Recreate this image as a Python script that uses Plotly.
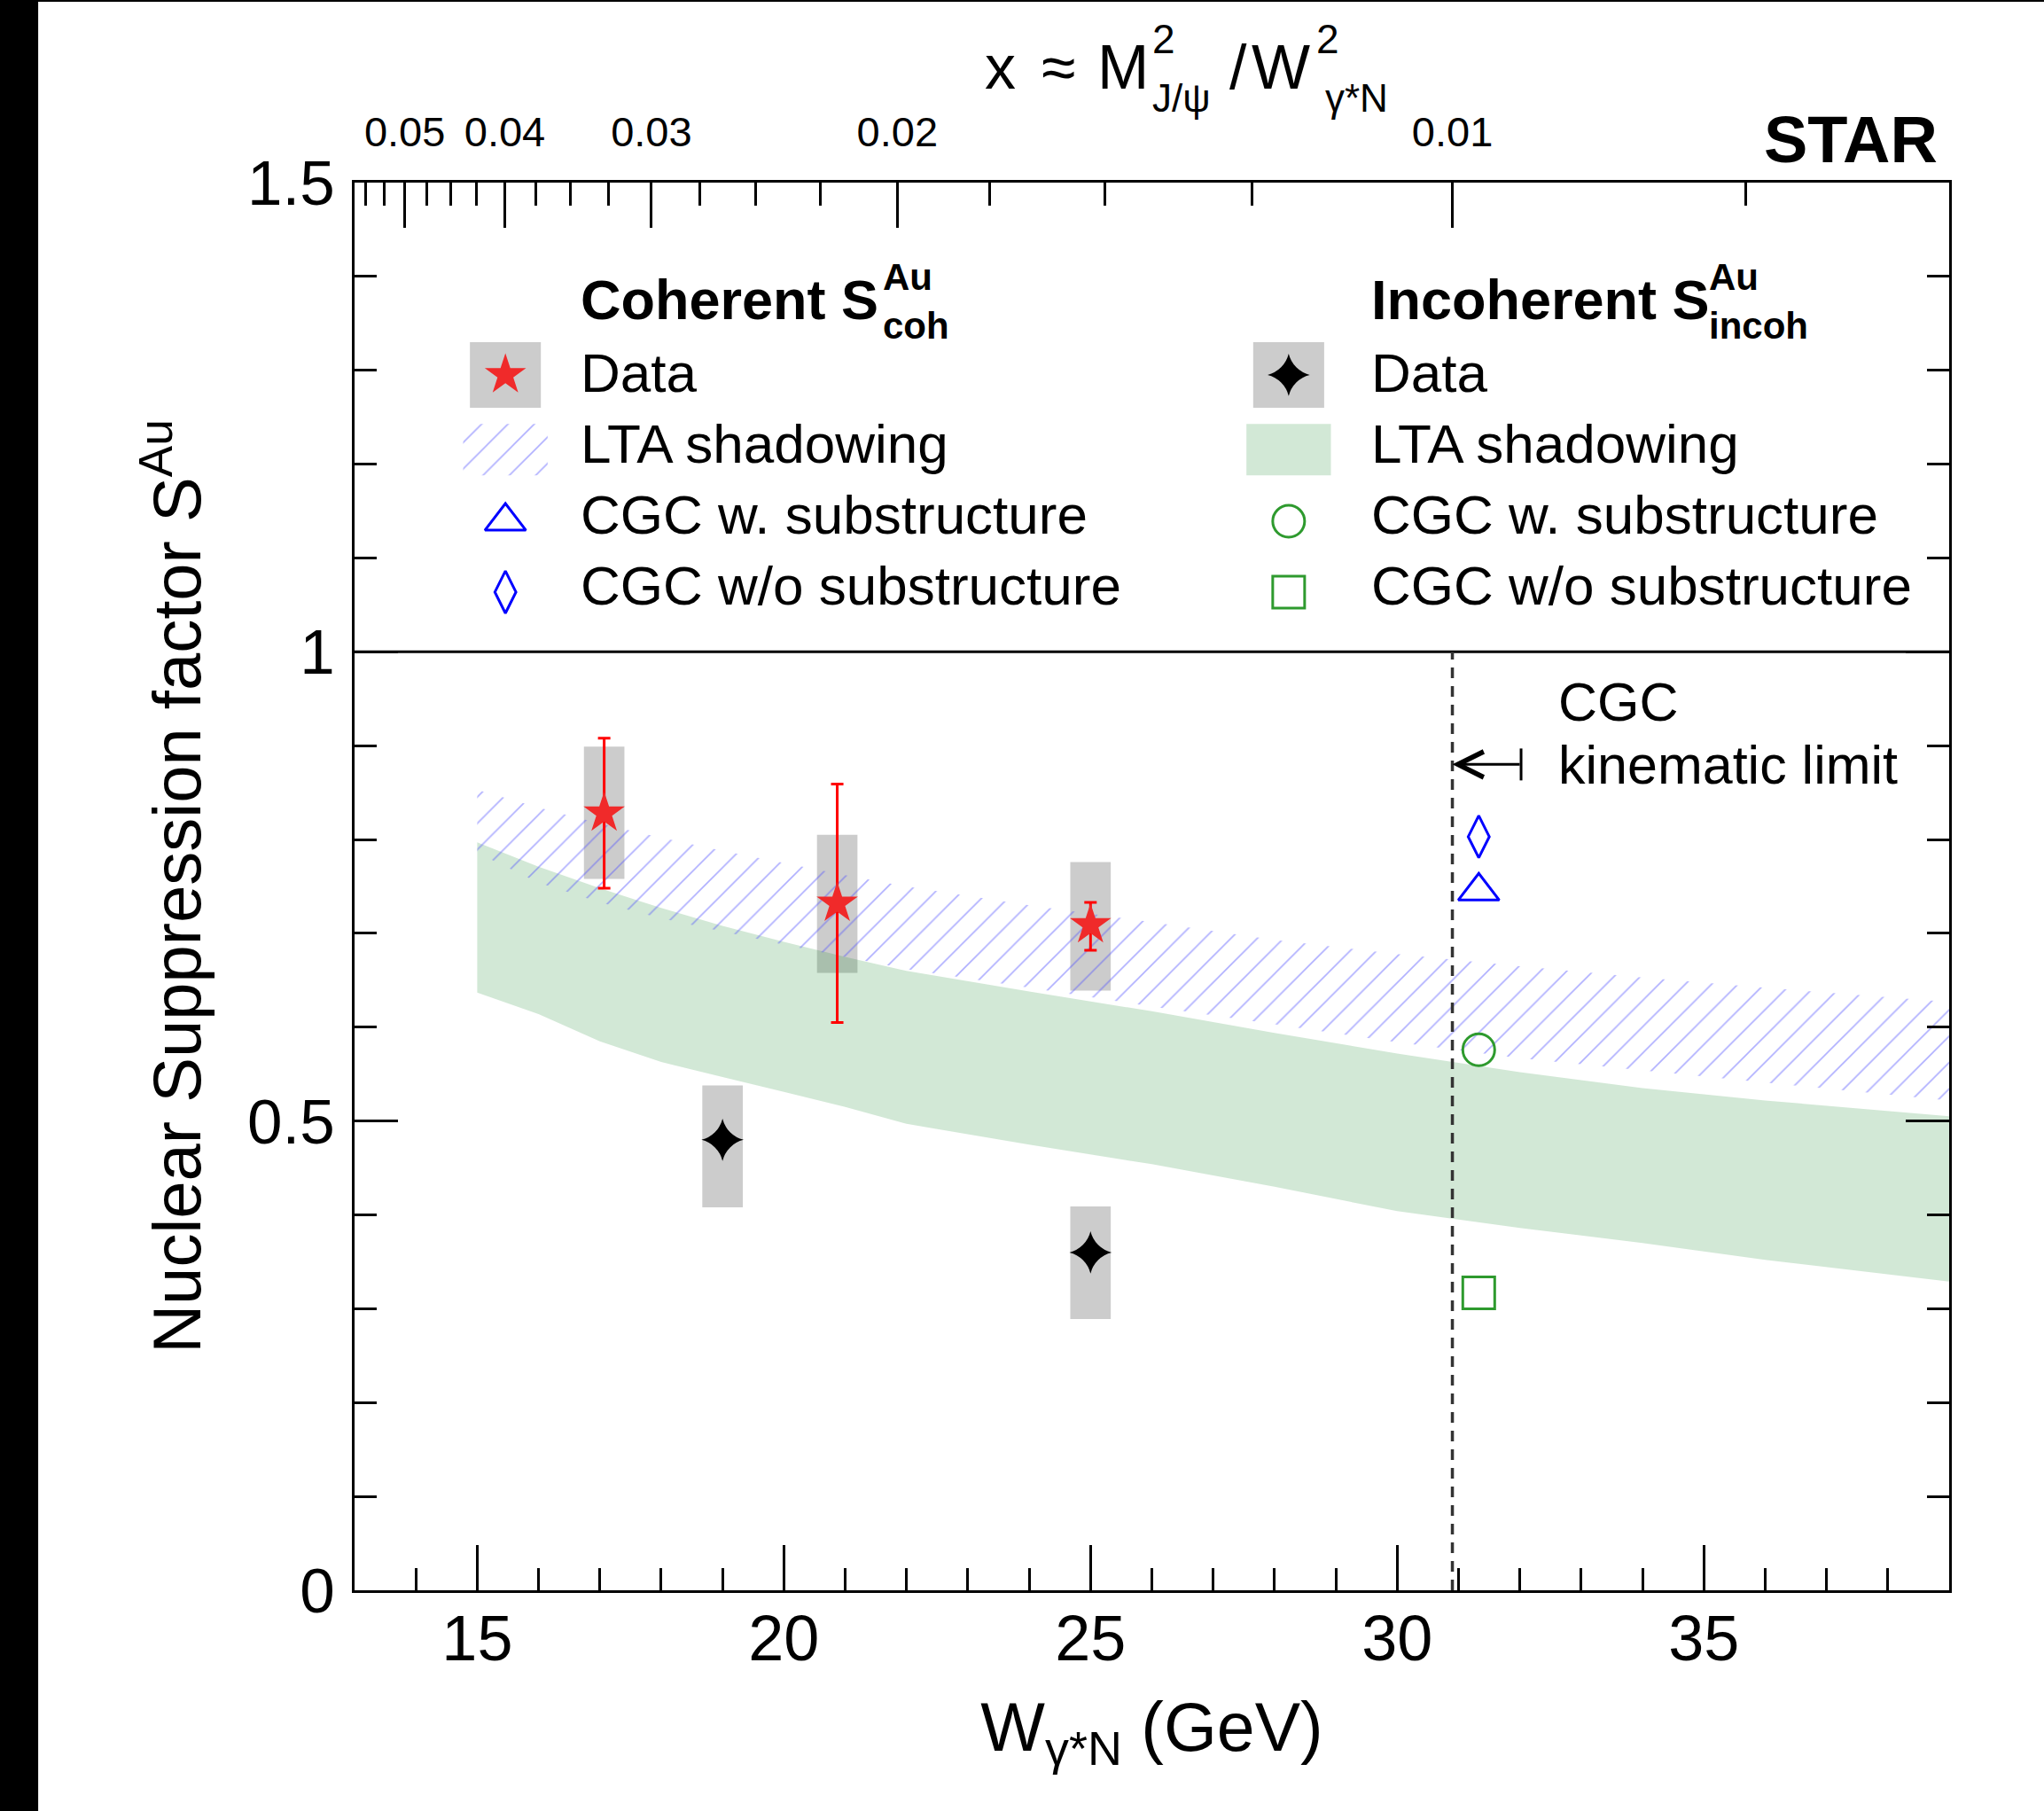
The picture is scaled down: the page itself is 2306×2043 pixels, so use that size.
import math
import plotly.graph_objects as go

# ---------------- data ----------------
M_JPSI = 3.09  # GeV, effective J/psi mass used for the top axis: x = M^2 / W^2

# Coherent J/psi: nuclear suppression factor S_coh^Au
COH_W = [17.07, 20.87, 25.00]
COH_S = [0.828, 0.732, 0.709]
COH_STAT_HI = [0.908, 0.859, 0.733]
COH_STAT_LO = [0.748, 0.605, 0.682]
COH_SYS_HI = [0.899, 0.805, 0.776]
COH_SYS_LO = [0.758, 0.658, 0.639]

# Incoherent J/psi: S_incoh^Au
INC_W = [19.00, 25.00]
INC_S = [0.480, 0.360]
INC_SYS_HI = [0.538, 0.409]
INC_SYS_LO = [0.408, 0.289]

# LTA shadowing bands
LTA_W = [15, 16, 17, 18, 19, 20, 21, 22, 24, 26, 28, 30, 32, 34, 36, 39]
COH_LTA_HI = [0.853, 0.834, 0.817, 0.802, 0.788, 0.775, 0.762, 0.750, 0.730, 0.712, 0.693, 0.678, 0.665, 0.653, 0.642, 0.627]
COH_LTA_LO = [0.786, 0.754, 0.733, 0.716, 0.702, 0.688, 0.675, 0.662, 0.642, 0.622, 0.603, 0.584, 0.567, 0.554, 0.541, 0.522]
INC_LTA_HI = [0.797, 0.771, 0.748, 0.727, 0.708, 0.691, 0.675, 0.660, 0.638, 0.617, 0.594, 0.572, 0.552, 0.535, 0.522, 0.505]
INC_LTA_LO = [0.637, 0.614, 0.585, 0.563, 0.547, 0.531, 0.515, 0.497, 0.475, 0.454, 0.430, 0.404, 0.386, 0.370, 0.352, 0.329]

# CGC predictions
CGC_W = [31.33]
CGC_COH_SUB = [0.745]     # CGC w. substructure (coherent)
CGC_COH_NOSUB = [0.803]   # CGC w/o substructure (coherent)
CGC_INC_SUB = [0.576]     # CGC w. substructure (incoherent)
CGC_INC_NOSUB = [0.317]   # CGC w/o substructure (incoherent)
CGC_LIMIT_X = 0.01        # CGC kinematic limit in Bjorken x

# Top axis (Bjorken x) ticks
X_MAJOR = [0.05, 0.04, 0.03, 0.02, 0.01]
X_MAJOR_LABELS = ["0.05", "0.04", "0.03", "0.02", "0.01"]
X_MINOR = [0.055, 0.0525, 0.0475, 0.045, 0.0425, 0.0375, 0.035, 0.0325,
           0.0275, 0.025, 0.0225, 0.0175, 0.015, 0.0125, 0.0075]

LEGEND_LABELS = ["Data", "LTA shadowing", "CGC w. substructure", "CGC w/o substructure"]

# ---------------- styling / layout constants ----------------
W_RANGE = [13, 39]
S_RANGE = [0, 1.5]
FONT = "Liberation Sans, Arial, Helvetica, sans-serif"
GREY = "#cccccc"
RED_STAR = "#f02a2a"
RED_BAR = "#ff0000"
BLUE = "#0000ff"
GREEN_MK = "#2e9a2e"
GREEN_FILL = "rgba(30,140,50,0.2)"
HATCH_COLOR = "#5050ff"
BOX_W = 0.66
HATCH = dict(shape="/", fgcolor=HATCH_COLOR, fgopacity=0.45, bgcolor="rgba(0,0,0,0)",
             size=21, solidity=0.08)

def w_of_x(x):
    return M_JPSI / math.sqrt(x)

CGC_LIMIT_W = w_of_x(CGC_LIMIT_X)
ARROW_S = 0.880
ARROW_TAIL_W = 32.02

fig = go.Figure()

# systematic boxes
fig.add_trace(go.Bar(x=COH_W, base=COH_SYS_LO,
                     y=[h - l for h, l in zip(COH_SYS_HI, COH_SYS_LO)],
                     width=BOX_W, marker=dict(color=GREY, line_width=0),
                     hoverinfo="skip", showlegend=False))
fig.add_trace(go.Bar(x=INC_W, base=INC_SYS_LO,
                     y=[h - l for h, l in zip(INC_SYS_HI, INC_SYS_LO)],
                     width=BOX_W, marker=dict(color=GREY, line_width=0),
                     hoverinfo="skip", showlegend=False))

# LTA bands
fig.add_trace(go.Scatter(x=LTA_W + LTA_W[::-1], y=INC_LTA_HI + INC_LTA_LO[::-1],
                         mode="none", fill="toself", fillcolor=GREEN_FILL,
                         hoverinfo="skip", showlegend=False))
fig.add_trace(go.Scatter(x=LTA_W + LTA_W[::-1], y=COH_LTA_HI + COH_LTA_LO[::-1],
                         mode="none", fill="toself", fillcolor="rgba(0,0,0,0)",
                         fillpattern=HATCH, hoverinfo="skip", showlegend=False))

# data points
fig.add_trace(go.Scatter(
    x=COH_W, y=COH_S, mode="markers",
    marker=dict(symbol="star", size=35, color=RED_STAR, line_width=0),
    error_y=dict(type="data", symmetric=False,
                 array=[h - s for h, s in zip(COH_STAT_HI, COH_S)],
                 arrayminus=[s - l for s, l in zip(COH_S, COH_STAT_LO)],
                 color=RED_BAR, thickness=3, width=7),
    showlegend=False))
fig.add_trace(go.Scatter(
    x=INC_W, y=INC_S, mode="markers",
    marker=dict(symbol="star-diamond", size=34, color="black", line_width=0),
    showlegend=False))

# CGC predictions
CGC_STYLE = [
    (CGC_COH_NOSUB, "diamond-tall-open", 34, BLUE),
    (CGC_COH_SUB, "triangle-up-open", 40, BLUE),
    (CGC_INC_SUB, "circle-open", 36, GREEN_MK),
    (CGC_INC_NOSUB, "square-open", 36, GREEN_MK),
]
for vals, sym, sz, col in CGC_STYLE:
    fig.add_trace(go.Scatter(x=CGC_W, y=vals, mode="markers",
                             marker=dict(symbol=sym, size=sz, color=col,
                                         line=dict(width=3, color=col)),
                             showlegend=False))

# empty trace so that the top (Bjorken-x) axis is rendered
fig.add_trace(go.Scatter(x=[None], y=[None], xaxis="x2", yaxis="y", mode="markers",
                         hoverinfo="skip", showlegend=False))

# ---------------- legend (drawn inside the frame) ----------------
LEG_KEY_X = [0.0946, 0.5858]                    # key centres (left / right column)
LEG_KEY_Y = [0.8634, 0.8103, 0.7594, 0.7091]    # key centres per row
LEG_TEXT_X = [0.1406, 0.6365]
LEG_TEXT_Y = [0.8651, 0.8147, 0.7644, 0.7140]
BOX_KEY = (0.0445, 0.0466)
BAND_KEY = (0.0530, 0.0365)

fig.add_trace(go.Bar(x=LEG_KEY_X, base=[LEG_KEY_Y[0] - BOX_KEY[1] / 2] * 2,
                     y=[BOX_KEY[1]] * 2, width=BOX_KEY[0],
                     marker=dict(color=GREY, line_width=0),
                     xaxis="x3", yaxis="y3", hoverinfo="skip", showlegend=False))
fig.add_trace(go.Bar(x=[LEG_KEY_X[0]], base=[LEG_KEY_Y[1] - BAND_KEY[1] / 2],
                     y=[BAND_KEY[1]], width=BAND_KEY[0],
                     marker=dict(color="rgba(0,0,0,0)", line_width=0, pattern=HATCH),
                     xaxis="x3", yaxis="y3", hoverinfo="skip", showlegend=False))
fig.add_trace(go.Bar(x=[LEG_KEY_X[1]], base=[LEG_KEY_Y[1] - BAND_KEY[1] / 2],
                     y=[BAND_KEY[1]], width=BAND_KEY[0],
                     marker=dict(color=GREEN_FILL, line_width=0),
                     xaxis="x3", yaxis="y3", hoverinfo="skip", showlegend=False))
LEG_MARKERS = [
    (0, 0, "star", 35, RED_STAR, 0),
    (1, 0, "star-diamond", 34, "black", 0),
    (0, 2, "triangle-up-open", 40, BLUE, 3),
    (0, 3, "diamond-tall-open", 34, BLUE, 3),
    (1, 2, "circle-open", 36, GREEN_MK, 3),
    (1, 3, "square-open", 36, GREEN_MK, 3),
]
for col, row, sym, sz, c, lw in LEG_MARKERS:
    fig.add_trace(go.Scatter(x=[LEG_KEY_X[col]], y=[LEG_KEY_Y[row]], mode="markers",
                             marker=dict(symbol=sym, size=sz, color=c,
                                         line=dict(width=lw, color=c)),
                             xaxis="x3", yaxis="y3", hoverinfo="skip", showlegend=False))

annotations = []

def text(x, y, s, size, bold=False, xanchor="left", xref="paper", yref="paper"):
    if bold:
        s = "<b>" + s + "</b>"
    annotations.append(dict(x=x, y=y, xref=xref, yref=yref, text=s, showarrow=False,
                            xanchor=xanchor, yanchor="middle",
                            font=dict(family=FONT, size=size, color="black")))

for col in range(2):
    for row, lab in enumerate(LEGEND_LABELS):
        text(LEG_TEXT_X[col], LEG_TEXT_Y[row], lab, 62)

# legend headers with stacked super/subscripts
text(0.1406, 0.9167, "Coherent S", 63, bold=True)
text(0.3300, 0.9332, "Au", 42, bold=True)
text(0.3300, 0.8986, "coh", 42, bold=True)
text(0.6365, 0.9167, "Incoherent S", 63, bold=True)
text(0.8480, 0.9332, "Au", 42, bold=True)
text(0.8480, 0.8986, "incoh", 42, bold=True)

# STAR label
text(0.9939, 1.0304, "STAR", 74, bold=True, xanchor="right")

# top axis title: x ≈ M²_J/ψ / W²_γ*N
TOP_Y = 1.0820
text(0.4048, TOP_Y, "x", 70, xanchor="center")
text(0.4415, TOP_Y, "≈", 70, xanchor="center")
text(0.4822, TOP_Y, "M", 70, xanchor="center")
text(0.4990, 1.1020, "2", 46)
text(0.4990, 1.0600, "J/ψ", 44)
text(0.5540, TOP_Y, "/", 70, xanchor="center")
text(0.5809, TOP_Y, "W", 70, xanchor="center")
text(0.6022, 1.1020, "2", 46)
text(0.6077, 1.0600, "γ*N", 44)

# CGC kinematic limit label
text(0.7540, 0.6307, "CGC", 61)
text(0.7540, 0.5860, "kinematic limit", 61)

# arrow of kinematic limit
annotations.append(dict(x=CGC_LIMIT_W, y=ARROW_S, xref="x", yref="y",
                        ax=ARROW_TAIL_W, ay=ARROW_S, axref="x", ayref="y",
                        text="", showarrow=True, arrowhead=5, arrowsize=1.9,
                        arrowwidth=3, arrowcolor="black", standoff=0, startstandoff=0))

shapes = [
    # S = 1 reference line
    dict(type="line", xref="paper", x0=0, x1=1, yref="y", y0=1, y1=1,
         line=dict(color="black", width=3)),
    # CGC kinematic limit
    dict(type="line", xref="x", x0=CGC_LIMIT_W, x1=CGC_LIMIT_W, yref="y", y0=0, y1=1,
         line=dict(color="#333333", width=3.5, dash="12px,9px")),
    # tail bar of the arrow
    dict(type="line", xref="x", x0=ARROW_TAIL_W, x1=ARROW_TAIL_W, yref="y",
         y0=ARROW_S - 0.017, y1=ARROW_S + 0.017, line=dict(color="black", width=3)),
    # black strip on the left edge of the picture and thin top border
    dict(type="rect", xref="paper", yref="paper", x0=-0.2224, x1=-0.1984,
         y0=-0.1570, y1=1.1300, fillcolor="black", line_width=0, layer="above"),
    dict(type="rect", xref="paper", yref="paper", x0=-0.2224, x1=1.06,
         y0=1.1285, y1=1.1300, fillcolor="black", line_width=0, layer="above"),
]

tick_common = dict(ticks="inside", tickcolor="black", tickwidth=2.5,
                   showgrid=False, zeroline=False, showline=True,
                   linecolor="black", linewidth=3)

fig.update_layout(
    width=2306, height=2043,
    margin=dict(l=400, r=107, t=206, b=249, autoexpand=False),
    paper_bgcolor="white", plot_bgcolor="white",
    barmode="overlay", showlegend=False,
    font=dict(family=FONT, color="black"),
    xaxis=dict(range=W_RANGE, dtick=5, tick0=0, ticklen=51,
               tickfont=dict(family=FONT, size=72),
               minor=dict(dtick=1, tick0=0, ticks="inside", ticklen=25,
                          tickwidth=2.5, tickcolor="black", showgrid=False),
               ticklabelstandoff=-10,
               title=dict(text="W<sub>γ*N</sub> (GeV)", standoff=34,
                          font=dict(family=FONT, size=77)),
               automargin=False, **tick_common),
    xaxis2=dict(overlaying="x", side="top", anchor="y", range=W_RANGE,
                tickmode="array", tickvals=[w_of_x(v) for v in X_MAJOR],
                ticktext=X_MAJOR_LABELS, ticklen=51,
                tickfont=dict(family=FONT, size=47),
                minor=dict(tickmode="array", tickvals=[w_of_x(v) for v in X_MINOR],
                           ticks="inside", ticklen=26, tickwidth=2.5,
                           tickcolor="black", showgrid=False),
                ticklabelstandoff=19, automargin=False, **tick_common),
    yaxis=dict(range=S_RANGE, dtick=0.5, tick0=0, ticklen=49, mirror="ticks",
               tickfont=dict(family=FONT, size=71),
               minor=dict(dtick=0.1, tick0=0, ticks="inside", ticklen=25,
                          tickwidth=2.5, tickcolor="black", showgrid=False),
               ticklabelstandoff=5,
               title=dict(text="Nuclear Suppression factor S<sup>Au</sup>", standoff=28,
                          font=dict(family=FONT, size=76)),
               automargin=False, **tick_common),
    xaxis3=dict(overlaying="x", anchor="y3", range=[0, 1], visible=False,
                fixedrange=True),
    yaxis3=dict(overlaying="y", anchor="x3", range=[0, 1], visible=False,
                fixedrange=True),
    annotations=annotations,
    shapes=shapes,
)

fig.write_html("out.html", config={"displayModeBar": False},
               post_script="document.body.style.margin='0px';")
